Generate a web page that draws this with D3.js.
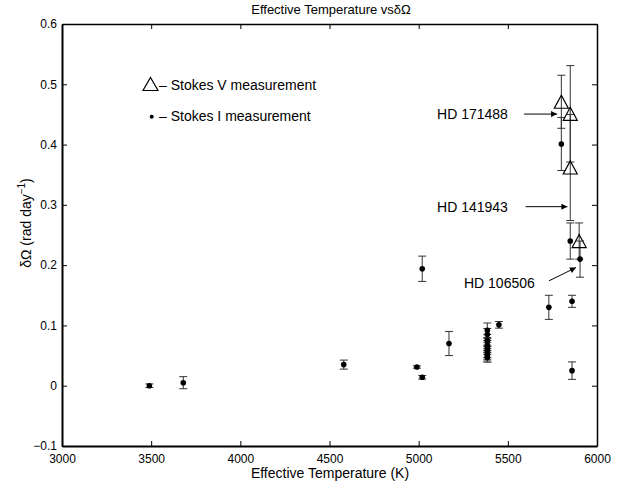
<!DOCTYPE html>
<html>
<head>
<meta charset="utf-8">
<script src="https://cdn.jsdelivr.net/npm/d3@7"></script>
<style>
  html, body { margin: 0; padding: 0; background: #fff; }
  svg { display: block; font-family: "Liberation Sans", Arial, Helvetica, sans-serif; }
</style>
</head>
<body>
<svg id="chart" width="619" height="487"></svg>
<script>
// ---- Data ----
const xTicks = [3000, 3500, 4000, 4500, 5000, 5500, 6000];
const yTicks = [-0.1, 0, 0.1, 0.2, 0.3, 0.4, 0.5, 0.6];

// Stokes I measurements (dots)
const stokesI_T   = [3490, 3680, 4580, 4990, 5020, 5020, 5170,
                     5385, 5385, 5385, 5385, 5385, 5385, 5385, 5385, 5385,
                     5450, 5730, 5860, 5860, 5800, 5850, 5905];
const stokesI_val = [0.000, 0.005, 0.035, 0.031, 0.014, 0.194, 0.070,
                     0.092, 0.085, 0.075, 0.068, 0.062, 0.057, 0.053, 0.050, 0.047,
                     0.101, 0.130, 0.140, 0.025, 0.401, 0.240, 0.210];
const stokesI_err = [0.003, 0.010, 0.0075, 0.002, 0.003, 0.021, 0.020,
                     0.012, 0.010, 0.010, 0.010, 0.010, 0.010, 0.009, 0.009, 0.008,
                     0.0055, 0.020, 0.010, 0.0145, 0.044, 0.030, 0.030];

// Stokes V measurements (triangles)
const stokesV_T   = [5800, 5850, 5850, 5900];
const stokesV_val = [0.471, 0.451, 0.362, 0.240];
const stokesV_err = [0.044, 0.080, 0.088, 0.030];

// Star labels
const starNames = ["HD 171488", "HD 141943", "HD 106506"];

// ---- Layout ----
const svg = d3.select("#chart");
const x = d3.scaleLinear().domain([3000, 6000]).range([62, 597]);
const y = d3.scaleLinear().domain([-0.1, 0.6]).range([446, 24]);

const stokesI = stokesI_T.map((t, i) => ({t, v: stokesI_val[i], e: stokesI_err[i]}));
const stokesV = stokesV_T.map((t, i) => ({t, v: stokesV_val[i], e: stokesV_err[i]}));

// ---- Axes ----
const fmt = d => d < 0 ? "\u2212" + Math.abs(d) : String(d);

const gB = svg.append("g").attr("transform", `translate(0,${y(-0.1)})`)
  .call(d3.axisBottom(x).tickValues(xTicks).tickSizeInner(-5).tickSizeOuter(0).tickPadding(8).tickFormat(d => d));
const gL = svg.append("g").attr("transform", `translate(${x(3000)},0)`)
  .call(d3.axisLeft(y).tickValues(yTicks).tickSizeInner(-5).tickSizeOuter(0).tickPadding(5).tickFormat(fmt));
const gT = svg.append("g").attr("transform", `translate(0,${y(0.6)})`)
  .call(d3.axisTop(x).tickValues(xTicks).tickSizeInner(-5).tickSizeOuter(0).tickFormat(""));
const gR = svg.append("g").attr("transform", `translate(${x(6000)},0)`)
  .call(d3.axisRight(y).tickValues(yTicks).tickSizeInner(-5).tickSizeOuter(0).tickFormat(""));

[gB, gL, gT, gR].forEach(g => {
  g.selectAll(".tick text").attr("font-size", 12).attr("fill", "#000")
    .attr("font-family", "Liberation Sans, Arial, sans-serif");
  g.selectAll(".tick line").attr("stroke", "#000").attr("stroke-width", 1);
});
gB.select(".domain").attr("stroke", "#000").attr("stroke-width", 2);
gL.select(".domain").attr("stroke", "#000").attr("stroke-width", 2);
gT.select(".domain").attr("stroke", "#000").attr("stroke-width", 1.5);
gR.select(".domain").attr("stroke", "#000").attr("stroke-width", 1.5);

// ---- Error bars ----
function errorBars(data, cls) {
  const g = svg.append("g").attr("class", cls)
    .attr("stroke", "#333").attr("stroke-width", 1).attr("fill", "none");
  const cap = 4;
  data.forEach(d => {
    const cx = x(d.t), y1 = y(d.v + d.e), y2 = y(d.v - d.e);
    g.append("line").attr("x1", cx).attr("x2", cx).attr("y1", y1).attr("y2", y2);
    g.append("line").attr("x1", cx - cap).attr("x2", cx + cap).attr("y1", y1).attr("y2", y1);
    g.append("line").attr("x1", cx - cap).attr("x2", cx + cap).attr("y1", y2).attr("y2", y2);
  });
}
errorBars(stokesI, "errI");
errorBars(stokesV, "errV");

// ---- Markers ----
svg.append("g").selectAll("circle").data(stokesI).join("circle")
  .attr("cx", d => x(d.t)).attr("cy", d => y(d.v)).attr("r", 2.8).attr("fill", "#000");

const tri = (cx, cy, w, h) => `M${cx},${cy - h / 2}L${cx + w / 2},${cy + h / 2}L${cx - w / 2},${cy + h / 2}Z`;
svg.append("g").selectAll("path").data(stokesV).join("path")
  .attr("d", d => tri(x(d.t), y(d.v), 14, 13))
  .attr("fill", "none").attr("stroke", "#000").attr("stroke-width", 1.2);

// ---- Title & labels ----
svg.append("text").attr("x", 331).attr("y", 14).attr("text-anchor", "middle")
  .attr("font-size", 13).text("Effective Temperature vs\u03B4\u03A9");

svg.append("text").attr("x", 330).attr("y", 478).attr("text-anchor", "middle")
  .attr("font-size", 14).text("Effective Temperature (K)");

const yl = svg.append("text").attr("transform", "translate(31,223) rotate(-90)")
  .attr("text-anchor", "middle").attr("font-size", 14);
yl.append("tspan").text("\u03B4\u03A9 (rad day");
yl.append("tspan").attr("font-size", 10).attr("dy", -6).text("\u22121");
yl.append("tspan").attr("dy", 6).text(")");

// ---- Legend ----
svg.append("path").attr("d", tri(150.5, 84, 15, 13))
  .attr("fill", "none").attr("stroke", "#000").attr("stroke-width", 1.2);
svg.append("text").attr("x", 159).attr("y", 90).attr("font-size", 14).text("\u2013 Stokes V measurement");
svg.append("circle").attr("cx", 151.7).attr("cy", 116.7).attr("r", 2).attr("fill", "#000");
svg.append("text").attr("x", 159).attr("y", 121).attr("font-size", 14).text("\u2013 Stokes I measurement");

// ---- Annotations (arrows in data coordinates) ----
svg.append("defs").append("marker").attr("id", "arrow")
  .attr("viewBox", "0 0 10 10").attr("refX", 10).attr("refY", 5)
  .attr("markerWidth", 9).attr("markerHeight", 6).attr("markerUnits", "userSpaceOnUse")
  .attr("orient", "auto")
  .append("path").attr("d", "M0,0L10,5L0,10Z").attr("fill", "#000");

const annots = [
  {name: starNames[0], tx: 5103, ty: 0.4506, ax1: 5591, ay1: 0.4506, ax2: 5776, ay2: 0.4506},
  {name: starNames[1], tx: 5103, ty: 0.297,  ax1: 5600, ay1: 0.297,  ax2: 5834, ay2: 0.297},
  {name: starNames[2], tx: 5254, ty: 0.170,  ax1: 5731, ay1: 0.174,  ax2: 5882, ay2: 0.196}
];
annots.forEach(a => {
  svg.append("text").attr("x", x(a.tx)).attr("y", y(a.ty) + 5).attr("font-size", 14).text(a.name);
  svg.append("line").attr("x1", x(a.ax1)).attr("y1", y(a.ay1)).attr("x2", x(a.ax2)).attr("y2", y(a.ay2))
    .attr("stroke", "#000").attr("stroke-width", 1).attr("marker-end", "url(#arrow)");
});
</script>
</body>
</html>
